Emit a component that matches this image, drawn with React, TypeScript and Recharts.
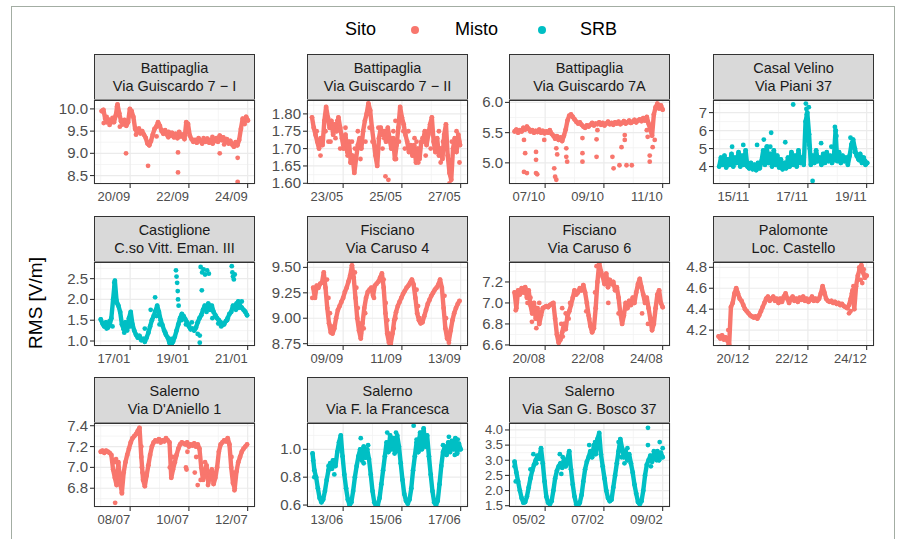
import React from 'react';
import { ScatterChart, Scatter, XAxis, YAxis, CartesianGrid } from 'recharts';

// time axis: days counted from the first labelled date of each panel
const STEP = 0.06;
const X_TICKS = [0, 2, 4];
const X_MINOR = [-1, 1, 3];
const X_DOMAIN: [number, number] = [-1.23, 4.25];

const MISTO = '#F8766D';
const SRB = '#00BFC4';
const FONT = '"Liberation Sans", Arial, Helvetica, sans-serif';

type Pt = [number, number];

// ---- Battipaglia Via Guiscardo 7 - I
const bat1Dates = ['20/09', '22/09', '24/09'];
const bat1Start = -0.97;
const bat1Values = [
  9.95, 9.98, 9.78, 9.7, 9.76, 9.68, 9.74, 9.7, 9.85, 10.1, 9.9, 9.72, 9.65, 9.75, 9.62, 9.7,
  10.0, 9.95, 9.82, 9.55, 9.48, 9.52, 9.45, 9.5, 9.42, 9.35, 9.22, 9.18, 9.28, 9.42, 9.55, 9.6,
  9.7, 9.62, 9.5, 9.44, 9.52, 9.42, 9.48, 9.4, 9.46, 9.36, 9.44, 9.34, 9.48, 9.38, 9.42, 9.32,
  9.7, 9.66, 9.4, 9.32, 9.26, 9.3, 9.24, 9.34, 9.28, 9.22, 9.3, 9.26, 9.33, 9.24, 9.3, 9.22,
  9.28, 9.34, 9.26, 9.4, 9.3, 9.36, 9.25, 9.32, 9.22, 9.28, 9.2, 9.15, 9.25, 9.18, 9.3, 9.55,
  9.78, 9.72, 9.82, 9.74,
];
const bat1Extra: Pt[] = [
  [-0.14, 9.0], [0.61, 8.72], [1.63, 9.02], [1.63, 8.57], [3.05, 9.0], [3.66, 8.9], [3.66, 8.36],
  [-0.9, 9.68], [-0.8, 9.82], [-0.7, 9.64], [-0.6, 9.8], [-0.35, 9.6], [-0.3, 9.74], [0.2, 9.42],
  [0.3, 9.56], [0.9, 9.38], [1.1, 9.5], [1.3, 9.36], [2.5, 9.34], [2.8, 9.37], [3.2, 9.2],
  [3.9, 9.66], [-0.45, 10.05], [0.0, 9.9],
];

// ---- Battipaglia Via Guiscardo 7 - II
const bat2Dates = ['23/05', '25/05', '27/05'];
const bat2Start = -1.06;
const bat2Values = [
  1.79, 1.76, 1.74, 1.72, 1.7, 1.73, 1.71, 1.78, 1.82, 1.79, 1.76, 1.78, 1.74, 1.77, 1.75, 1.79,
  1.76, 1.73, 1.7, 1.74, 1.69, 1.72, 1.66, 1.68, 1.63, 1.67, 1.71, 1.73, 1.7, 1.75, 1.78, 1.8,
  1.83, 1.81, 1.76, 1.72, 1.68, 1.65, 1.73, 1.76, 1.74, 1.75, 1.72, 1.76, 1.73, 1.7, 1.73, 1.67,
  1.71, 1.76, 1.82, 1.79, 1.77, 1.74, 1.72, 1.69, 1.71, 1.68, 1.71, 1.66, 1.7, 1.67, 1.72, 1.72,
  1.75, 1.71, 1.74, 1.77, 1.79, 1.72, 1.69, 1.73, 1.68, 1.7, 1.67, 1.74, 1.77, 1.68, 1.63, 1.61,
  1.7, 1.73, 1.69, 1.74, 1.71,
];
const bat2Extra: Pt[] = [
  [-0.77, 1.68], [-0.43, 1.72], [-0.26, 1.73], [0.08, 1.76], [0.15, 1.68], [0.59, 1.67],
  [0.76, 1.72], [1.1, 1.7], [1.34, 1.7], [1.44, 1.62], [1.54, 1.61], [1.71, 1.75], [2.05, 1.75],
  [2.22, 1.75], [2.43, 1.73], [2.56, 1.66], [2.81, 1.68], [2.98, 1.7], [3.26, 1.75], [3.32, 1.66],
  [3.49, 1.7], [3.62, 1.6], [3.86, 1.75], [3.96, 1.66], [1.78, 1.78],
  [-0.9, 1.75], [-0.6, 1.75], [-0.5, 1.72], [-0.2, 1.78], [-0.1, 1.7], [0.0, 1.72], [0.3, 1.72],
  [0.4, 1.7], [0.5, 1.75], [0.9, 1.76], [1.0, 1.72], [1.2, 1.76], [1.4, 1.73], [1.6, 1.72],
  [1.9, 1.72], [2.1, 1.7], [2.3, 1.7], [2.5, 1.72], [2.7, 1.73], [2.9, 1.75], [3.1, 1.72],
  [3.4, 1.72], [3.7, 1.72], [3.8, 1.7], [3.95, 1.72], [-0.35, 1.76], [0.25, 1.66], [1.8, 1.67],
];

// ---- Battipaglia Via Guiscardo 7A
const bat7Dates = ['07/10', '09/10', '11/10'];
const bat7Start = -1.04;
const bat7Values = [
  5.52, 5.55, 5.5, 5.54, 5.52, 5.58, 5.55, 5.6, 5.56, 5.52, 5.54, 5.5, 5.53, 5.51, 5.55, 5.5,
  5.53, 5.49, 5.52, 5.5, 5.54, 5.48, 5.45, 5.4, 5.44, 5.38, 5.42, 5.36, 5.45, 5.55, 5.7, 5.78,
  5.8, 5.76, 5.72, 5.68, 5.65, 5.67, 5.63, 5.6, 5.58, 5.62, 5.6, 5.63, 5.66, 5.62, 5.65, 5.64,
  5.67, 5.63, 5.66, 5.62, 5.65, 5.68, 5.64, 5.66, 5.63, 5.67, 5.65, 5.68, 5.64, 5.66, 5.69, 5.65,
  5.67, 5.7, 5.66, 5.68, 5.71, 5.67, 5.7, 5.72, 5.69, 5.74, 5.7, 5.76, 5.65, 5.55, 5.45, 5.8,
  5.92, 5.98, 5.9, 5.95, 5.88,
];
const bat7Extra: Pt[] = [
  [-0.72, 5.38], [-0.68, 5.16], [-0.72, 4.85], [-0.62, 4.83], [-0.31, 5.18], [-0.31, 5.05],
  [-0.31, 4.83], [-0.27, 4.81], [-0.03, 5.38], [0.31, 4.91], [0.34, 4.77], [0.38, 4.72],
  [0.38, 5.24], [0.41, 5.14], [0.72, 5.24], [0.72, 5.1], [0.75, 5.02], [1.27, 5.41], [1.27, 5.16],
  [1.27, 5.02], [1.75, 5.39], [1.75, 5.1], [1.78, 5.54], [2.29, 5.1], [2.33, 4.91], [2.53, 4.96],
  [2.6, 5.26], [2.71, 5.46], [2.71, 5.38], [2.77, 4.96], [2.95, 4.96], [3.46, 5.54], [3.49, 5.43],
  [3.56, 5.12], [3.56, 5.02], [3.66, 5.26], [3.73, 5.38],
];

// ---- Casal Velino Via Piani 37
const casDates = ['15/11', '17/11', '19/11'];
const casStart = -1.02;
const casValues = [
  4.0, 4.5, 4.1, 4.6, 3.95, 4.4, 4.1, 4.7, 4.0, 4.5, 4.2, 4.8, 4.0, 4.6, 4.1, 4.9, 4.0, 3.9,
  4.2, 3.85, 4.1, 3.8, 4.2, 3.9, 4.3, 4.9, 4.1, 5.1, 4.2, 4.7, 4.0, 4.9, 4.1, 4.6, 3.95, 4.4,
  3.85, 4.2, 3.9, 4.5, 4.0, 4.8, 4.1, 4.6, 4.0, 4.9, 4.2, 4.5, 4.1, 6.5, 7.0, 5.8, 4.1, 4.6,
  4.2, 4.9, 4.3, 4.5, 4.1, 4.7, 4.2, 4.8, 4.3, 4.6, 4.2, 4.4, 6.0, 4.3, 4.8, 4.2, 4.6, 4.3,
  4.5, 4.1, 4.6, 5.2, 5.5, 5.0, 4.6, 4.4, 4.7, 4.2, 4.5, 4.1, 4.2,
];
const casExtra: Pt[] = [
  [-0.95, 4.25], [-0.85, 4.35], [-0.7, 4.2], [-0.58, 5.1], [-0.5, 4.3], [-0.35, 4.25], [-0.2, 5.2],
  [-0.1, 4.3], [0.05, 4.05], [0.27, 5.2], [0.2, 4.0], [0.45, 4.3], [0.5, 5.5], [0.55, 4.45],
  [0.62, 5.1], [0.72, 5.1], [0.75, 5.88], [0.85, 4.3], [0.95, 4.4], [1.05, 4.2], [1.23, 5.35],
  [1.3, 4.0], [1.5, 4.3], [1.5, 7.45], [1.6, 4.4], [1.7, 4.25], [1.8, 4.35], [1.93, 7.5],
  [1.95, 7.2], [1.96, 6.9], [1.97, 6.6], [1.98, 6.3], [1.99, 6.1], [2.0, 5.9], [2.01, 5.6],
  [2.02, 5.4], [2.04, 5.2], [2.06, 5.0], [2.03, 7.3], [2.16, 3.2], [2.2, 4.4], [2.3, 4.3],
  [2.45, 4.45], [2.6, 4.5], [2.75, 4.45], [2.45, 5.3], [2.8, 5.1], [2.92, 6.2], [2.95, 6.0],
  [2.97, 5.7], [3.05, 4.4], [3.2, 4.35], [3.45, 5.6], [3.5, 5.3], [3.6, 4.8], [3.75, 4.35],
  [3.85, 4.5], [3.95, 4.3],
];

// ---- Castiglione C.so Vitt. Eman. III
const castDates = ['17/01', '19/01', '21/01'];
const castStart = -1.0;
const castValues = [
  1.52, 1.42, 1.35, 1.45, 1.32, 1.38, 1.55, 2.0, 2.45, 1.95, 1.85, 1.7, 1.4, 1.28, 1.45, 1.3,
  1.55, 1.7, 1.4, 1.25, 1.15, 1.08, 1.12, 1.02, 1.05, 0.98, 1.08, 1.2, 1.35, 1.5, 1.6, 1.72,
  1.85, 1.7, 1.5, 1.38, 1.25, 1.15, 1.08, 0.95, 0.92, 0.98, 1.1, 1.25, 1.4, 1.55, 1.65, 1.6,
  1.52, 1.45, 1.35, 1.28, 1.3, 1.25, 1.32, 1.45, 1.55, 1.62, 1.75, 1.85, 1.8, 1.9, 1.75, 1.85,
  1.7, 1.62, 1.55, 1.5, 1.45, 1.38, 1.42, 1.48, 1.55, 1.65, 1.7, 1.85, 1.8, 1.9, 1.95, 1.85,
  1.8, 1.75, 1.7, 1.62,
];
const castExtra: Pt[] = [
  [-0.54, 2.4], [-0.53, 2.3], [-0.52, 2.15], [-0.48, 2.0], [-0.44, 1.9], [-0.8, 1.3], [-0.7, 1.48],
  [-0.1, 1.25], [0.0, 1.35], [0.7, 1.75], [0.85, 2.05], [0.9, 1.6], [1.56, 2.7], [1.58, 2.55],
  [1.6, 2.4], [1.62, 2.2], [1.63, 2.0], [1.65, 1.85], [2.3, 1.17], [2.37, 1.13], [2.37, 0.96],
  [2.44, 2.22], [2.4, 2.78], [2.45, 2.65], [2.5, 2.72], [2.55, 2.6], [2.62, 2.7], [2.68, 2.62],
  [3.46, 2.8], [3.48, 2.65], [3.5, 2.55], [3.53, 2.48], [3.56, 2.6], [3.1, 1.35], [3.3, 1.5],
  [3.7, 1.8], [3.8, 1.95], [2.9, 1.6], [2.1, 1.45], [1.2, 1.2],
  [-0.9, 1.38], [-0.6, 1.35], [-0.2, 1.2], [0.3, 1.12], [0.5, 1.3], [1.0, 1.4], [1.4, 1.05],
  [1.75, 1.5], [1.9, 1.4], [2.0, 1.38], [2.6, 1.7], [2.8, 1.55], [3.0, 1.42], [3.2, 1.4],
  [3.6, 1.75], [3.9, 1.72],
];

// ---- Fisciano Via Caruso 4
const f4Dates = ['09/09', '11/09', '13/09'];
const f4Start = -1.02;
const f4Values = [
  9.3, 9.2, 9.32, 9.3, 9.34, 9.35, 9.45, 9.3, 9.1, 8.95, 8.86, 8.85, 8.9, 9.0, 9.08, 9.12,
  9.16, 9.2, 9.26, 9.3, 9.36, 9.42, 9.52, 9.4, 9.2, 9.0, 8.88, 8.8, 8.95, 9.1, 9.2, 9.26,
  9.28, 9.3, 9.22, 9.32, 9.34, 9.36, 9.4, 9.44, 9.3, 9.05, 8.85, 8.76, 8.75, 8.85, 8.98, 9.06,
  9.12, 9.16, 9.2, 9.24, 9.27, 9.3, 9.32, 9.35, 9.38, 9.33, 9.2, 9.05, 8.98, 8.95, 8.96, 9.02,
  9.08, 9.14, 9.18, 9.22, 9.25, 9.28, 9.3, 9.33, 9.38, 9.3, 9.1, 8.9, 8.8, 8.78, 8.88, 8.98,
  9.05, 9.1, 9.14, 9.17,
];
const f4Extra: Pt[] = [
  [-0.55, 9.38], [-0.5, 9.2], [-0.45, 9.05], [-0.4, 8.92], [0.4, 9.45], [0.45, 9.3], [0.5, 9.1],
  [0.55, 8.95], [0.6, 8.85], [1.38, 9.38], [1.45, 9.15], [1.5, 8.98], [1.55, 8.85], [1.6, 8.78],
  [2.5, 9.28], [2.55, 9.12], [2.6, 9.0], [3.45, 9.22], [3.5, 9.0], [3.55, 8.85], [3.6, 8.76],
  [1.05, 9.2], [-1.05, 9.2], [0.7, 8.9], [0.75, 9.05], [1.72, 8.9], [1.78, 9.0],
];

// ---- Fisciano Via Caruso 6
const f6Dates = ['20/08', '22/08', '24/08'];
const f6Start = -1.04;
const f6Values = [
  7.1, 6.95, 7.12, 7.08, 7.14, 7.1, 7.15, 7.05, 7.12, 6.98, 6.9, 7.0, 6.85, 6.95, 6.8, 6.88,
  6.95, 6.96, 6.97, 6.96, 6.98, 6.99, 7.0, 6.85, 6.7, 6.62, 6.65, 6.72, 6.8, 6.75, 6.88, 6.92,
  6.98, 7.05, 7.12, 7.08, 7.1, 7.14, 7.12, 7.17, 7.1, 7.0, 6.88, 6.78, 6.72, 6.76, 6.95, 7.2,
  7.38, 7.3, 7.25, 7.18, 7.28, 7.15, 7.22, 7.18, 7.2, 7.12, 7.15, 7.05, 6.9, 6.8, 6.88, 7.0,
  6.95, 7.02, 6.98, 7.05, 7.0, 7.1, 7.18, 7.23, 7.15, 7.08, 7.0, 7.05, 6.95, 6.85, 6.74, 6.8,
  6.95, 7.08, 7.12, 7.0, 6.96,
];
const f6Extra: Pt[] = [
  [-0.5, 7.05], [-0.45, 6.82], [-0.35, 6.95], [-0.3, 6.76], [-0.2, 7.0], [0.55, 6.8], [0.6, 6.68],
  [0.7, 6.9], [0.8, 6.85], [0.85, 7.0], [1.4, 6.92], [1.5, 6.85], [1.7, 7.1], [1.75, 7.35],
  [2.15, 7.0], [2.5, 6.9], [3.3, 6.9], [3.5, 6.8], [0.58, 6.95], [-1.0, 6.93], [-0.6, 7.0],
];

// ---- Palomonte Loc. Castello
const palDates = ['20/12', '22/12', '24/12'];
const palStart = -1.04;
const palValues = [
  4.14, 4.12, 4.15, 4.11, 4.13, 4.1, 4.06, 4.42, 4.46, 4.55, 4.6, 4.55, 4.5, 4.48, 4.44, 4.4,
  4.38, 4.36, 4.34, 4.33, 4.32, 4.33, 4.31, 4.34, 4.38, 4.42, 4.46, 4.5, 4.52, 4.48, 4.5, 4.52,
  4.48, 4.5, 4.46, 4.5, 4.47, 4.52, 4.55, 4.5, 4.46, 4.5, 4.52, 4.48, 4.5, 4.47, 4.51, 4.49,
  4.52, 4.48, 4.5, 4.47, 4.49, 4.52, 4.48, 4.5, 4.48, 4.5, 4.55, 4.62, 4.56, 4.5, 4.48, 4.47,
  4.48, 4.46, 4.47, 4.45, 4.46, 4.44, 4.45, 4.43, 4.42, 4.41, 4.44, 4.5, 4.58, 4.4, 4.62, 4.72,
  4.78, 4.82, 4.75, 4.7, 4.72,
];
const palExtra: Pt[] = [
  [-0.71, 4.2], [-0.71, 4.05], [-0.7, 4.12], [3.4, 4.36], [3.45, 4.38], [3.5, 4.55], [3.55, 4.62],
  [3.75, 4.8], [3.8, 4.68], [3.9, 4.78], [3.85, 4.65],
];

// ---- Salerno Via D'Aniello 1
const danDates = ['08/07', '10/07', '12/07'];
const danStart = -1.0;
const danValues = [
  7.15, 7.16, 7.14, 7.16, 7.15, 7.14, 7.12, 6.98, 6.9, 6.83, 7.05, 6.85, 6.76, 6.95, 7.05, 7.12,
  7.18, 7.24, 7.28, 7.3, 7.32, 7.35, 7.38, 7.1, 6.88, 6.82, 6.92, 7.02, 7.12, 7.2, 7.24, 7.26,
  7.25, 7.27, 7.24, 7.26, 7.25, 7.28, 7.26, 7.24, 6.9, 6.98, 7.05, 7.12, 7.18, 7.22, 7.24, 7.23,
  7.22, 7.24, 7.2, 7.22, 7.21, 7.23, 7.2, 7.22, 7.18, 7.0, 6.88, 6.95, 7.02, 6.85, 6.92, 6.98,
  6.84, 6.9, 7.0, 7.15, 7.22, 7.24, 7.26, 7.25, 7.28, 7.22, 7.0, 6.85, 6.8, 6.96, 7.05, 7.1,
  7.15, 7.18, 7.2, 7.22,
];
const danExtra: Pt[] = [
  [-0.51, 6.66], [-0.28, 6.75], [-0.52, 7.05], [-0.48, 7.08], [0.4, 7.0], [0.38, 7.2], [0.42, 6.95],
  [1.35, 7.0], [1.45, 7.1], [1.9, 7.0], [1.92, 6.98], [1.95, 7.15], [2.25, 7.1], [2.4, 6.88],
  [2.55, 7.05], [2.65, 6.83], [3.45, 7.1], [3.5, 6.95], [3.55, 6.78], [2.2, 6.95], [2.3, 6.83],
];

// ---- Salerno Via F. la Francesca
const fraDates = ['13/06', '15/06', '17/06'];
const fraStart = -1.04;
const fraValues = [
  0.97, 0.85, 0.8, 0.72, 0.65, 0.62, 0.64, 0.7, 0.78, 0.85, 0.9, 0.86, 0.92, 0.88, 0.98, 1.05,
  1.1, 0.95, 0.82, 0.72, 0.64, 0.6, 0.62, 0.7, 0.8, 0.88, 0.95, 1.0, 0.92, 1.02, 0.94, 1.0,
  0.93, 0.82, 0.7, 0.62, 0.59, 0.6, 0.65, 0.75, 0.85, 0.95, 1.05, 0.98, 1.1, 1.0, 1.08, 0.98,
  1.1, 1.02, 0.9, 0.78, 0.68, 0.63, 0.61, 0.64, 0.72, 0.85, 0.95, 1.05, 0.98, 1.12, 1.0, 1.15,
  1.02, 1.1, 0.95, 0.82, 0.7, 0.62, 0.6, 0.63, 0.75, 0.88, 0.98, 1.02, 0.96, 1.05, 0.98, 1.06,
  1.0, 1.08, 0.97, 1.04, 1.0,
];
const fraExtra: Pt[] = [
  [-0.5, 0.88], [-0.35, 0.92], [-0.3, 0.82], [0.55, 0.96], [0.6, 1.08], [0.7, 0.9], [0.8, 0.96],
  [0.85, 1.03], [1.5, 1.12], [1.55, 0.99], [1.65, 1.05], [1.75, 0.97], [1.8, 1.12], [2.4, 1.17],
  [2.5, 1.07], [2.55, 0.98], [2.6, 1.08], [2.7, 1.12], [3.4, 1.03], [3.5, 0.97], [3.6, 1.09],
  [3.7, 1.02], [3.8, 0.96], [3.9, 1.07], [-1.02, 0.92], [-0.98, 0.8],
];

// ---- Salerno Via San G. Bosco 37
const bosDates = ['05/02', '07/02', '09/02'];
const bosStart = -1.04;
const bosValues = [
  2.95, 2.6, 2.3, 2.0, 1.75, 1.6, 1.62, 1.8, 2.1, 2.4, 2.65, 2.85, 3.0, 3.15, 3.05, 3.4,
  2.9, 2.3, 1.8, 1.6, 1.55, 1.65, 2.0, 2.4, 2.65, 2.8, 2.9, 2.75, 3.0, 2.8, 3.05, 3.3,
  2.7, 2.2, 1.8, 1.55, 1.5, 1.6, 1.85, 2.3, 2.7, 2.95, 3.1, 3.3, 3.1, 3.5, 3.2, 3.7,
  3.9, 3.2, 2.8, 2.4, 2.0, 1.75, 1.65, 1.7, 2.1, 2.5, 2.9, 3.3, 3.7, 3.4, 3.1, 3.3,
  3.0, 3.2, 2.9, 2.6, 2.2, 1.9, 1.62, 1.55, 1.65, 2.0, 2.5, 2.85, 3.0, 3.15, 2.95, 3.2,
  3.05, 3.3, 3.0, 3.25, 3.1,
];
const bosExtra: Pt[] = [
  [-0.5, 2.7], [-0.4, 3.2], [-0.3, 2.9], [0.5, 3.2], [0.55, 2.55], [0.6, 3.1], [0.8, 2.9],
  [1.5, 3.5], [1.6, 3.3], [1.7, 3.6], [1.75, 3.4], [2.5, 3.6], [2.6, 3.1], [2.7, 2.9], [2.8, 3.4],
  [3.5, 4.07], [3.5, 3.5], [3.6, 2.8], [3.7, 3.3], [3.8, 3.0], [3.9, 3.6], [4.0, 3.4],
  [-1.04, 2.8], [-1.0, 2.3],
];

type PanelDef = {
  title: [string, string];
  color: string;
  dates: string[];
  start: number;
  values: number[];
  extra: Pt[];
  yTicks: number[];
  yMinor: number[];
  yDomain: [number, number];
  dec: number;
  yFont?: number;
};

const PANELS: PanelDef[] = [
  { title: ['Battipaglia', 'Via Guiscardo 7 \u2212 I'], color: MISTO, dates: bat1Dates, start: bat1Start, values: bat1Values, extra: bat1Extra, yTicks: [8.5, 9, 9.5, 10], yMinor: [8.75, 9.25, 9.75], yDomain: [8.31, 10.2], dec: 1 },
  { title: ['Battipaglia', 'Via Guiscardo 7 \u2212 II'], color: MISTO, dates: bat2Dates, start: bat2Start, values: bat2Values, extra: bat2Extra, yTicks: [1.6, 1.65, 1.7, 1.75, 1.8], yMinor: [1.625, 1.675, 1.725, 1.775, 1.825], yDomain: [1.598, 1.84], dec: 2 },
  { title: ['Battipaglia', 'Via Guiscardo 7A'], color: MISTO, dates: bat7Dates, start: bat7Start, values: bat7Values, extra: bat7Extra, yTicks: [5, 5.5, 6], yMinor: [4.75, 5.25, 5.75], yDomain: [4.65, 6.04], dec: 1 },
  { title: ['Casal Velino', 'Via Piani 37'], color: SRB, dates: casDates, start: casStart, values: casValues, extra: casExtra, yTicks: [4, 5, 6, 7], yMinor: [3.5, 4.5, 5.5, 6.5, 7.5], yDomain: [3.03, 7.7], dec: 0 },
  { title: ['Castiglione', 'C.so Vitt. Eman. III'], color: SRB, dates: castDates, start: castStart, values: castValues, extra: castExtra, yTicks: [1, 1.5, 2, 2.5], yMinor: [1.25, 1.75, 2.25, 2.75], yDomain: [0.88, 2.9], dec: 1 },
  { title: ['Fisciano', 'Via Caruso 4'], color: MISTO, dates: f4Dates, start: f4Start, values: f4Values, extra: f4Extra, yTicks: [8.75, 9, 9.25, 9.5], yMinor: [8.875, 9.125, 9.375], yDomain: [8.727, 9.553], dec: 2 },
  { title: ['Fisciano', 'Via Caruso 6'], color: MISTO, dates: f6Dates, start: f6Start, values: f6Values, extra: f6Extra, yTicks: [6.6, 6.8, 7, 7.2], yMinor: [6.7, 6.9, 7.1, 7.3], yDomain: [6.59, 7.39], dec: 1 },
  { title: ['Palomonte', 'Loc. Castello'], color: MISTO, dates: palDates, start: palStart, values: palValues, extra: palExtra, yTicks: [4.2, 4.4, 4.6, 4.8], yMinor: [4.1, 4.3, 4.5, 4.7], yDomain: [4.048, 4.851], dec: 1 },
  { title: ['Salerno', "Via D'Aniello 1"], color: MISTO, dates: danDates, start: danStart, values: danValues, extra: danExtra, yTicks: [6.8, 7, 7.2, 7.4], yMinor: [6.7, 6.9, 7.1, 7.3], yDomain: [6.62, 7.426], dec: 1 },
  { title: ['Salerno', 'Via F. la Francesca'], color: SRB, dates: fraDates, start: fraStart, values: fraValues, extra: fraExtra, yTicks: [0.6, 0.8, 1.0], yMinor: [0.7, 0.9, 1.1], yDomain: [0.586, 1.189], dec: 1 },
  { title: ['Salerno', 'Via San G. Bosco 37'], color: SRB, dates: bosDates, start: bosStart, values: bosValues, extra: bosExtra, yTicks: [1.5, 2, 2.5, 3, 3.5, 4], yMinor: [1.75, 2.25, 2.75, 3.25, 3.75], yDomain: [1.457, 4.23], dec: 1, yFont: 13 },
];

// layout
const COL_LEFT = [94, 307, 509, 713];
const ROW_TOP = [100, 262, 423];
const PLOT_W = 161;
const PLOT_H = 84;
const STRIP_H = 46;
const Y_W = 60;
const PAD_T = 10;

function Panel({ p, left, top }: { p: PanelDef; left: number; top: number }) {
  const series = p.values.map((y, i) => ({ x: p.start + i * STEP, y }));
  const extra = p.extra.map(([x, y]) => ({ x, y }));
  const dot = (s: any) => <circle cx={s.cx} cy={s.cy} r={2.4} fill={p.color} />;
  const yFont = p.yFont ?? 15;
  return (
    <>
      <div
        style={{
          position: 'absolute',
          left,
          top: top - STRIP_H,
          width: PLOT_W,
          height: STRIP_H,
          boxSizing: 'border-box',
          background: '#d9d9d9',
          border: '1.3px solid #333333',
          display: 'flex',
          flexDirection: 'column',
          justifyContent: 'center',
          alignItems: 'center',
          fontSize: 14.5,
          lineHeight: '18px',
          color: '#1a1a1a',
          fontFamily: FONT,
        }}
      >
        <div>{p.title[0]}</div>
        <div>{p.title[1]}</div>
      </div>
      <div style={{ position: 'absolute', left: left - Y_W, top: top - PAD_T }}>
        <ScatterChart
          width={Y_W + PLOT_W + 8}
          height={PLOT_H + 24 + PAD_T}
          margin={{ top: PAD_T, right: 8, bottom: 0, left: 0 }}
        >
          <CartesianGrid
            horizontalValues={p.yMinor}
            verticalValues={X_MINOR}
            stroke="#f2f2f2"
            strokeWidth={0.8}
          />
          <CartesianGrid stroke="#ebebeb" strokeWidth={1.2} />
          <XAxis
            type="number"
            dataKey="x"
            domain={X_DOMAIN}
            ticks={X_TICKS}
            interval={0}
            allowDataOverflow
            height={24}
            axisLine={false}
            tickSize={4}
            tickLine={{ stroke: '#333333', strokeWidth: 1.1 }}
            tick={(t: any) => (
              <text x={t.x} y={t.y} dy={11} textAnchor="end" fontSize={13} fill="#4d4d4d" fontFamily={FONT}>
                {p.dates[X_TICKS.indexOf(t.payload.value)]}
              </text>
            )}
          />
          <YAxis
            type="number"
            dataKey="y"
            domain={p.yDomain}
            ticks={p.yTicks}
            interval={0}
            allowDataOverflow
            width={Y_W}
            axisLine={false}
            tickSize={4}
            tickLine={{ stroke: '#333333', strokeWidth: 1.1 }}
            tick={(t: any) => (
              <text x={t.x} y={t.y} dy={yFont / 3} textAnchor="end" fontSize={yFont} fill="#4d4d4d" fontFamily={FONT}>
                {Number(t.payload.value).toFixed(p.dec)}
              </text>
            )}
          />
          <Scatter
            data={series}
            fill={p.color}
            isAnimationActive={false}
            line={{ stroke: p.color, strokeWidth: 4.4, strokeLinejoin: 'round', strokeLinecap: 'round' }}
            shape={dot}
          />
          <Scatter data={extra} fill={p.color} isAnimationActive={false} shape={dot} />
        </ScatterChart>
      </div>
      <div
        style={{
          position: 'absolute',
          left,
          top,
          width: PLOT_W,
          height: PLOT_H,
          boxSizing: 'border-box',
          border: '1.3px solid #333333',
          pointerEvents: 'none',
        }}
      />
    </>
  );
}

export default function App() {
  return (
    <div
      style={{
        position: 'absolute',
        left: 0,
        top: 0,
        width: 898,
        height: 539,
        overflow: 'hidden',
        background: '#ffffff',
        fontFamily: FONT,
      }}
    >
      <div
        style={{
          position: 'absolute',
          left: 11,
          top: 6,
          width: 884,
          height: 545,
          boxSizing: 'border-box',
          border: '1.5px solid #a3ada3',
        }}
      />
      {/* legend */}
      <div style={{ position: 'absolute', left: 345, top: 19, fontSize: 18, color: '#000' }}>Sito</div>
      <div style={{ position: 'absolute', left: 411, top: 26, width: 8, height: 8, borderRadius: 4, background: MISTO }} />
      <div style={{ position: 'absolute', left: 455, top: 19, fontSize: 18, color: '#000' }}>Misto</div>
      <div style={{ position: 'absolute', left: 538, top: 26, width: 8, height: 8, borderRadius: 4, background: SRB }} />
      <div style={{ position: 'absolute', left: 580, top: 19, fontSize: 18, color: '#000' }}>SRB</div>
      {/* y title */}
      <div
        style={{
          position: 'absolute',
          left: 36 - 100,
          top: 303 - 12,
          width: 200,
          height: 24,
          lineHeight: '24px',
          textAlign: 'center',
          fontSize: 19,
          color: '#000',
          transform: 'rotate(-90deg)',
        }}
      >
        RMS [V/m]
      </div>
      {PANELS.map((p, i) => (
        <Panel key={i} p={p} left={COL_LEFT[i % 4]} top={ROW_TOP[Math.floor(i / 4)]} />
      ))}
    </div>
  );
}
